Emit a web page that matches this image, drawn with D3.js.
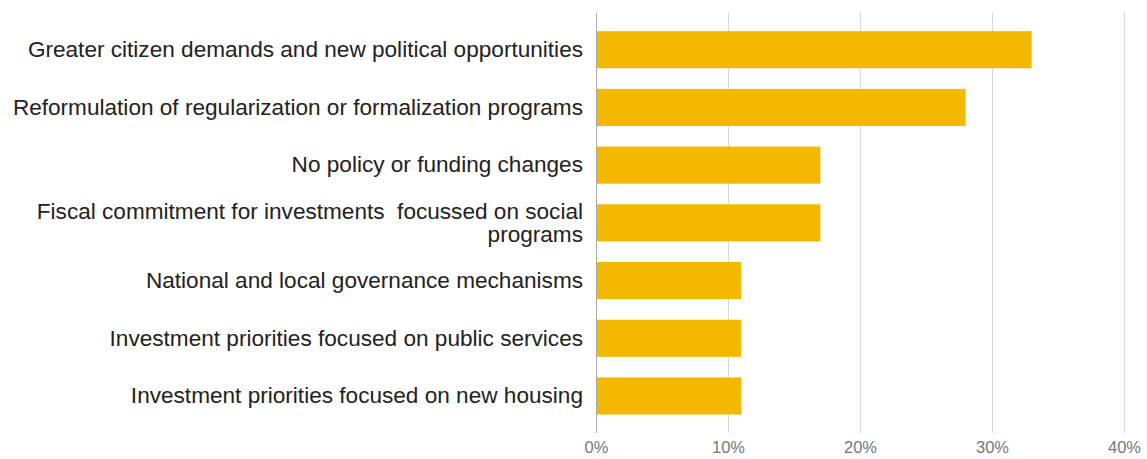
<!DOCTYPE html>
<html>
<head>
<meta charset="utf-8">
<script src="https://cdn.jsdelivr.net/npm/d3@7"></script>
<style>
  html, body { margin: 0; padding: 0; background: #fff; }
  svg { display: block; font-family: "Liberation Sans", Arial, sans-serif; }
</style>
</head>
<body>
<svg id="chart" width="1147" height="459"></svg>
<script>
// Share of responses per driver (%)
const categories = [
  "Greater citizen demands and new political opportunities",
  "Reformulation of regularization or formalization programs",
  "No policy or funding changes",
  "Fiscal commitment for investments  focussed on social programs",
  "National and local governance mechanisms",
  "Investment priorities focused on public services",
  "Investment priorities focused on new housing"
];
const values = [33, 28, 17, 17, 11, 11, 11];
const tickValues = [0, 10, 20, 30, 40];

const svg = d3.select("#chart");

const x = d3.scaleLinear().domain([0, 40]).range([596, 1124]);
const y = d3.scaleBand()
  .domain(categories)
  .range([12.7, 433])
  .paddingInner(0.357)
  .paddingOuter(0.32);

// vertical gridlines
svg.append("g")
  .selectAll("line")
  .data(tickValues)
  .join("line")
  .attr("x1", d => Math.round(x(d)) + 0.5)
  .attr("x2", d => Math.round(x(d)) + 0.5)
  .attr("y1", 12.7)
  .attr("y2", 433)
  .attr("stroke", d => d === 0 ? "#a8a8a8" : "#d8d8d8")
  .attr("stroke-width", 1);

// bars
svg.append("g")
  .selectAll("rect")
  .data(categories.map((c, i) => ({ c, v: values[i] })))
  .join("rect")
  .attr("x", x(0) + 1)
  .attr("y", d => y(d.c))
  .attr("width", d => x(d.v) - x(0) - 1)
  .attr("height", y.bandwidth())
  .attr("fill", "#f5b800");

// x-axis tick labels
const xAxis = d3.axisBottom(x)
  .tickValues(tickValues)
  .tickFormat(d => d + "%")
  .tickSize(0)
  .tickPadding(0);
const gx = svg.append("g").attr("transform", "translate(0,441)").call(xAxis);
gx.select(".domain").remove();
gx.selectAll("text")
  .attr("font-size", "16.5px")
  .attr("font-family", "'Liberation Sans', Arial, sans-serif")
  .attr("fill", "#777")
  .attr("dy", "0.71em");

// category labels, wrapped when wider than the left margin
const maxWidth = 585;
const lineHeight = 23;
const labels = svg.append("g")
  .selectAll("text")
  .data(categories)
  .join("text")
  .attr("x", 583)
  .attr("text-anchor", "end")
  .attr("font-size", "22.6px")
  .attr("fill", "#222")
  .style("white-space", "pre");

labels.each(function (d) {
  const text = d3.select(this);
  const words = d.split(" ");
  const lines = [];
  let current = [];
  const probe = text.append("tspan");
  words.forEach(w => {
    const trial = current.concat([w]);
    probe.text(trial.join(" "));
    if (probe.node().getComputedTextLength() > maxWidth && current.length) {
      lines.push(current.join(" "));
      current = [w];
    } else {
      current = trial;
    }
  });
  lines.push(current.join(" "));
  probe.remove();
  const cy = y(d) + y.bandwidth() / 2;
  const offset = -(lines.length - 1) * lineHeight / 2;
  lines.forEach((ln, i) => {
    text.append("tspan")
      .attr("x", 583)
      .attr("y", cy + offset + i * lineHeight)
      .attr("dy", "0.32em")
      .text(ln);
  });
});
</script>
</body>
</html>
